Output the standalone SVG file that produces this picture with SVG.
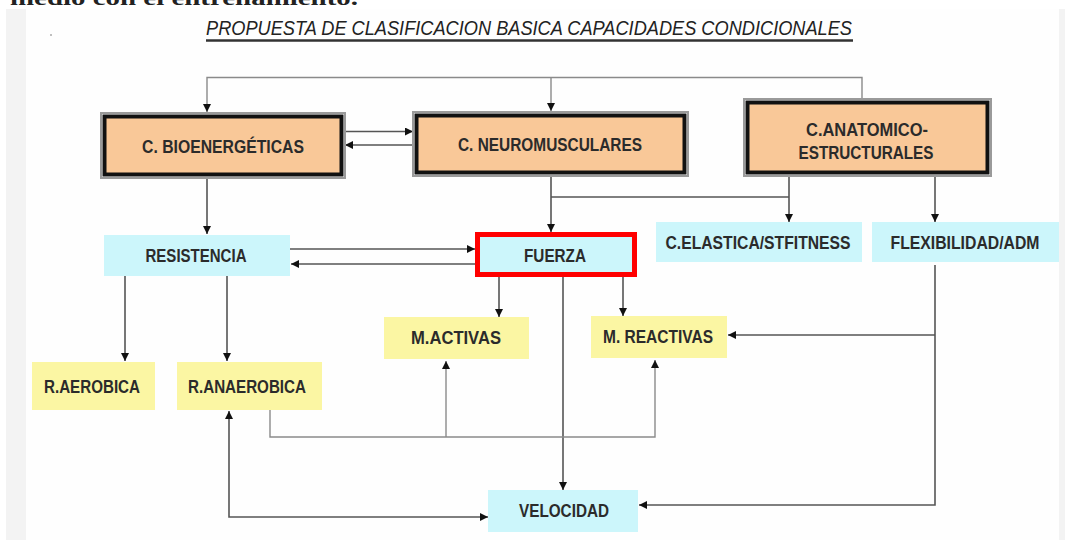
<svg xmlns="http://www.w3.org/2000/svg" width="1065" height="540" viewBox="0 0 1065 540">
<style>
.lbl{font-family:"Liberation Sans",Arial,sans-serif;font-weight:bold;font-size:18.5px;fill:#2b2b2b;text-anchor:middle}
.org{fill:#f9c898;stroke:#111;stroke-width:4}
.orgo{fill:none;stroke:#9a9a9a;stroke-width:2}
.cyan{fill:#ccf6fb}
.yel{fill:#fbf6a3}
.ln{fill:none;stroke:#555;stroke-width:1.6}
.lnl{fill:none;stroke:#8a8a8a;stroke-width:1.4}
</style>
<defs>
<marker id="ah" markerUnits="userSpaceOnUse" markerWidth="9" markerHeight="9" refX="8" refY="4" orient="auto">
<path d="M0,0 L8,4 L0,8 z" fill="#111"/>
</marker>
<marker id="ahs" markerUnits="userSpaceOnUse" markerWidth="9" markerHeight="9" refX="0" refY="4" orient="auto">
<path d="M8,0 L0,4 L8,8 z" fill="#111"/>
</marker>
</defs>
<rect x="0" y="0" width="1065" height="540" fill="#fff"/>
<rect x="6" y="9" width="20" height="531" fill="#f3f3f3"/>
<rect x="1059" y="9" width="6" height="531" fill="#f3f3f3"/>
<rect x="26" y="9" width="1033" height="531" fill="#fefefe"/>
<text x="10" y="5" font-family="Liberation Serif,serif" font-weight="bold" font-size="22" fill="#222" textLength="348" lengthAdjust="spacingAndGlyphs">medio con el entrenamiento.</text>
<circle cx="51" cy="35" r="1" fill="#aaa"/>
<g id="title">
<text x="206" y="35" font-family="Liberation Sans,Arial,sans-serif" font-style="italic" font-size="21" fill="#222" textLength="646" lengthAdjust="spacingAndGlyphs">PROPUESTA DE CLASIFICACION BASICA CAPACIDADES CONDICIONALES</text>
<line x1="206" y1="40.5" x2="853" y2="40.5" stroke="#333" stroke-width="2.5"/>
</g>
<g id="connectors">
<path class="lnl" d="M862,99 V77.5 H207 V112" marker-end="url(#ah)"/>
<path class="lnl" d="M551,77.5 V111" marker-end="url(#ah)"/>
<path class="ln" d="M345,131.5 H413" marker-end="url(#ah)"/>
<path class="ln" d="M413,145 H345" marker-end="url(#ah)"/>
<path class="ln" d="M207,178 V234" marker-end="url(#ah)"/>
<path class="ln" d="M551,176 V232" marker-end="url(#ah)"/>
<path class="ln" d="M551,197 H789"/>
<path class="ln" d="M789,176 V222" marker-end="url(#ah)"/>
<path class="ln" d="M935,176 V222" marker-end="url(#ah)"/>
<path class="ln" d="M290,249 H475" marker-end="url(#ah)"/>
<path class="ln" d="M475,264 H291" marker-end="url(#ah)"/>
<path class="ln" d="M125,276 V361" marker-end="url(#ah)"/>
<path class="ln" d="M227,276 V361" marker-end="url(#ah)"/>
<path class="ln" d="M499,277 V317" marker-end="url(#ah)"/>
<path class="ln" d="M623,277 V316" marker-end="url(#ah)"/>
<path class="ln" d="M563,277 V490" marker-end="url(#ah)"/>
<path class="ln" d="M935,265 V505 H639" marker-end="url(#ah)"/>
<path class="ln" d="M935,335 H728" marker-end="url(#ah)"/>
<path class="ln" d="M229,411 V517 H488" marker-start="url(#ahs)" marker-end="url(#ah)"/>
<path class="lnl" d="M270,410 V437 H655 V360" marker-end="url(#ah)"/>
<path class="lnl" d="M446,437 V361" marker-end="url(#ah)"/>
</g>
<g id="bioenergeticas">
<rect class="orgo" x="101" y="113" width="244" height="65"/>
<rect class="org" x="104.5" y="116.5" width="237" height="58"/>
<text class="lbl" x="223" y="153" textLength="162" lengthAdjust="spacingAndGlyphs">C. BIOENERGÉTICAS</text>
</g>
<g id="neuromusculares">
<rect class="orgo" x="413" y="112" width="275" height="64"/>
<rect class="org" x="416.5" y="115.5" width="268" height="57"/>
<text class="lbl" x="550" y="151" textLength="184" lengthAdjust="spacingAndGlyphs">C. NEUROMUSCULARES</text>
</g>
<g id="anatomico">
<rect class="orgo" x="744" y="99" width="247" height="77"/>
<rect class="org" x="747.5" y="102.5" width="240" height="70"/>
<text class="lbl" x="867" y="136" textLength="122" lengthAdjust="spacingAndGlyphs">C.ANATOMICO-</text>
<text class="lbl" x="866" y="159" textLength="135" lengthAdjust="spacingAndGlyphs">ESTRUCTURALES</text>
</g>
<g id="resistencia">
<rect class="cyan" x="104" y="235" width="186" height="41"/>
<text class="lbl" x="196" y="262" textLength="101" lengthAdjust="spacingAndGlyphs">RESISTENCIA</text>
</g>
<g id="fuerza">
<rect x="477.5" y="234.5" width="157" height="40" fill="#ccf6fb" stroke="#f00" stroke-width="5"/>
<text class="lbl" x="555" y="262" textLength="62" lengthAdjust="spacingAndGlyphs">FUERZA</text>
</g>
<g id="elastica">
<rect class="cyan" x="656" y="222" width="206" height="40"/>
<text class="lbl" x="758" y="249" textLength="185" lengthAdjust="spacingAndGlyphs">C.ELASTICA/STFITNESS</text>
</g>
<g id="flexibilidad">
<rect class="cyan" x="872" y="222" width="187" height="40"/>
<text class="lbl" x="965" y="249" textLength="149" lengthAdjust="spacingAndGlyphs">FLEXIBILIDAD/ADM</text>
</g>
<g id="mactivas">
<rect class="yel" x="384" y="317" width="145" height="42"/>
<text class="lbl" x="456" y="344" textLength="90" lengthAdjust="spacingAndGlyphs">M.ACTIVAS</text>
</g>
<g id="mreactivas">
<rect class="yel" x="591" y="316" width="136" height="42"/>
<text class="lbl" x="658" y="343" textLength="110" lengthAdjust="spacingAndGlyphs">M. REACTIVAS</text>
</g>
<g id="raerobica">
<rect class="yel" x="32" y="362" width="123" height="48"/>
<text class="lbl" x="92" y="393" textLength="96" lengthAdjust="spacingAndGlyphs">R.AEROBICA</text>
</g>
<g id="ranaerobica">
<rect class="yel" x="177" y="362" width="145" height="48"/>
<text class="lbl" x="247" y="393" textLength="118" lengthAdjust="spacingAndGlyphs">R.ANAEROBICA</text>
</g>
<g id="velocidad">
<rect class="cyan" x="488" y="490" width="150" height="42"/>
<text class="lbl" x="564" y="517" textLength="90" lengthAdjust="spacingAndGlyphs">VELOCIDAD</text>
</g>
</svg>
